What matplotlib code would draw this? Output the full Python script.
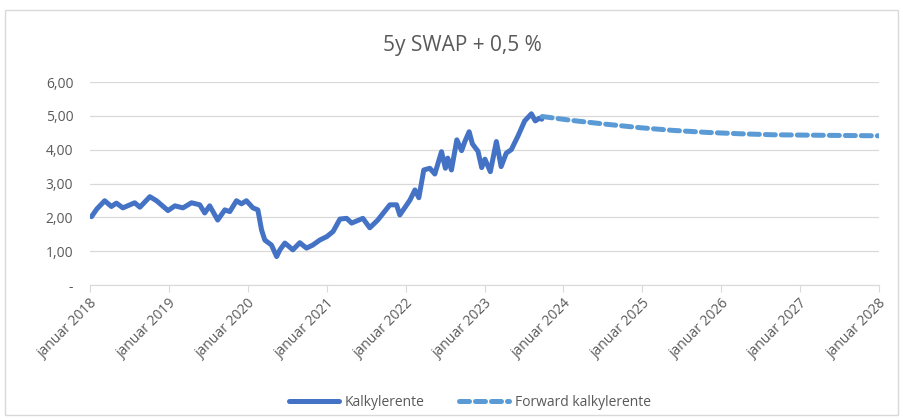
import matplotlib
matplotlib.use("Agg")
import matplotlib.pyplot as plt
from matplotlib.patches import Rectangle
import numpy as np

# historiske verdier (lest av grafen)
hist_dates = [
    "2018-01-08", "2018-02-02", "2018-03-10", "2018-04-10", "2018-05-03", "2018-06-02",
    "2018-07-27", "2018-08-20", "2018-10-05", "2018-11-05", "2018-12-28",
    "2019-01-29", "2019-03-07", "2019-04-16", "2019-05-24", "2019-06-16", "2019-07-09",
    "2019-08-15", "2019-09-17", "2019-10-10", "2019-11-10", "2019-12-03", "2019-12-26",
    "2020-01-25", "2020-02-17", "2020-03-05", "2020-03-20", "2020-04-20", "2020-05-14",
    "2020-05-29", "2020-06-21", "2020-07-28", "2020-08-29", "2020-09-29", "2020-10-28",
    "2020-11-30", "2021-01-01", "2021-01-30", "2021-03-03", "2021-04-03", "2021-04-26",
    "2021-06-17", "2021-07-19", "2021-08-25", "2021-10-20", "2021-11-20", "2021-12-05",
    "2022-01-21", "2022-02-13", "2022-03-03", "2022-03-26", "2022-04-23", "2022-05-16",
    "2022-06-16", "2022-07-04", "2022-07-15", "2022-08-01", "2022-08-26", "2022-09-17",
    "2022-10-02", "2022-10-22", "2022-11-06", "2022-12-02", "2022-12-19", "2023-01-03",
    "2023-01-28", "2023-02-25", "2023-03-19", "2023-04-12", "2023-05-05", "2023-06-04",
    "2023-07-06", "2023-08-06", "2023-08-24", "2023-09-12", "2023-09-23",
]
hist_values = [
    2.02, 2.25, 2.49, 2.32, 2.42, 2.28,
    2.43, 2.30, 2.61, 2.49, 2.20,
    2.34, 2.28, 2.43, 2.37, 2.13, 2.34,
    1.92, 2.22, 2.17, 2.49, 2.40, 2.49,
    2.28, 2.22, 1.63, 1.33, 1.18, 0.84,
    1.04, 1.24, 1.04, 1.25, 1.09, 1.18,
    1.33, 1.43, 1.58, 1.95, 1.97, 1.83,
    1.97, 1.69, 1.92, 2.37, 2.37, 2.07,
    2.51, 2.81, 2.58, 3.40, 3.45, 3.28,
    3.94, 3.45, 3.75, 3.40, 4.29, 3.97,
    4.24, 4.53, 4.17, 3.95, 3.47, 3.72,
    3.35, 4.24, 3.50, 3.90, 4.00, 4.39,
    4.85, 5.06, 4.85, 4.93, 4.90,
]

# forwardkurve
fwd_dates = ["2023-09-25", "2024-02-15", "2024-07-20", "2024-12-20", "2025-05-22",
             "2025-10-27", "2026-03-28", "2026-08-29", "2027-01-30", "2027-07-05", "2028-01-01"]
fwd_values = [4.98, 4.86, 4.75, 4.65, 4.57, 4.51, 4.47, 4.44, 4.43, 4.42, 4.41]

hist_x = np.array(hist_dates, dtype="datetime64[D]")
fwd_x = np.array(fwd_dates, dtype="datetime64[D]")

plt.rcParams['font.family'] = ['Open Sans', 'DejaVu Sans']

fig = plt.figure(figsize=(9.04, 4.2), dpi=100)
fig.patches.append(Rectangle((5 / 904, 5 / 420), 893 / 904, 405 / 420, transform=fig.transFigure,
                             fill=False, edgecolor='#d9d9d9', linewidth=1))
ax = fig.add_axes([90 / 904, 1 - 285 / 420, 789 / 904, 203 / 420])

ax.plot(hist_x, hist_values, color='#4472C4', linewidth=3.6, solid_capstyle='round',
        solid_joinstyle='round', label='Kalkylerente')
ax.plot(fwd_x, fwd_values, color='#5B9BD5', linewidth=3.6, linestyle=(0, (2.0, 1.2)),
        dash_capstyle='round', label='Forward kalkylerente')

ax.set_ylim(0, 6)
ax.set_yticks(range(0, 7))
ax.set_yticklabels(['-'] + [f"{v},00" for v in range(1, 7)])
ax.set_xlim(np.datetime64("2018-01-01"), np.datetime64("2028-01-01"))
years = [np.datetime64(f"{y}-01-01") for y in range(2018, 2029)]
ax.set_xticks(years)
ax.set_xticklabels([f"januar {y}" for y in range(2018, 2029)], rotation=45,
                   ha='right', rotation_mode='anchor')

ax.grid(axis='y', color='#d9d9d9', linewidth=0.9)
ax.set_axisbelow(True)
for s in ['top', 'right', 'left']:
    ax.spines[s].set_visible(False)
ax.spines['bottom'].set_color('#d9d9d9')
ax.tick_params(axis='y', length=0, labelcolor='#595959', labelsize=10, pad=12)
ax.tick_params(axis='x', length=5, color='#d9d9d9', labelcolor='#595959', labelsize=10, pad=3)

fig.text(0.511, 1 - 45 / 420, '5y SWAP + 0,5 %', ha='center', va='center',
         fontsize=15, color='#595959')

fig.legend(loc='center', bbox_to_anchor=(0.52, 1 - 402 / 420), ncol=2, frameon=False,
           fontsize=10, labelcolor='#595959', handlelength=3.6, columnspacing=2.5,
           handletextpad=0.4)

fig.savefig('out.png', dpi=100)
